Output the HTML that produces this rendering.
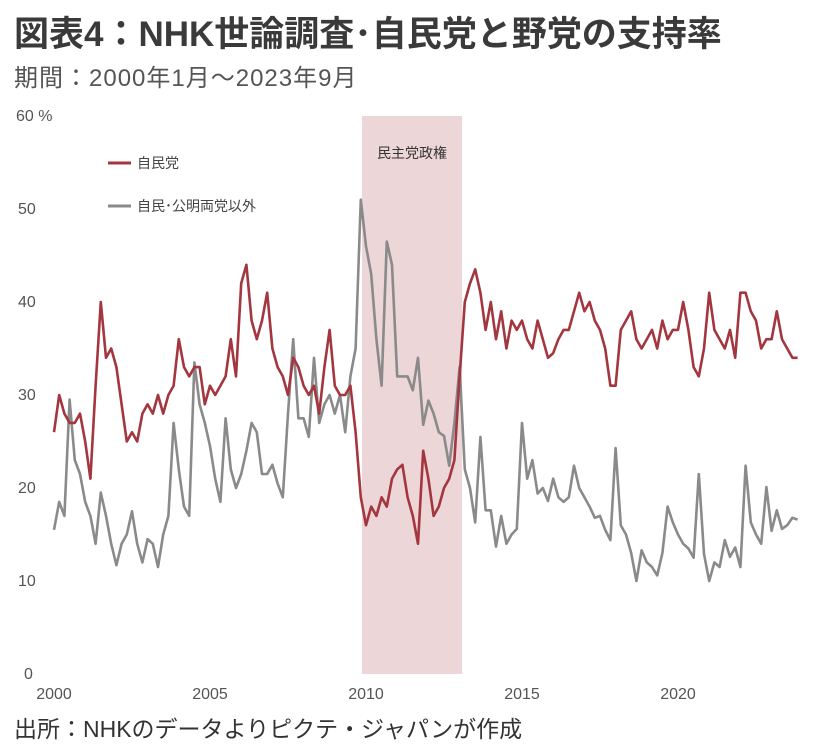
<!DOCTYPE html>
<html><head><meta charset="utf-8">
<style>
body{margin:0;background:#fff;width:831px;height:751px;overflow:hidden;font-family:"Liberation Sans","Noto Sans CJK JP",sans-serif;}
.t{position:absolute;white-space:nowrap;}
</style></head>
<body>
<div class="t" style="left:14px;top:6px;font-size:35px;font-weight:bold;color:#3a3a3a;">図表4：NHK世論調査･自民党と野党の支持率</div>
<div class="t" style="left:14px;top:58px;font-size:24px;letter-spacing:1px;color:#555;">期間：2000年1月～2023年9月</div>
<div class="t" style="left:14px;top:710px;font-size:23px;color:#333;">出所：NHKのデータよりピクテ・ジャパンが作成</div>
<svg id="chart" width="831" height="751" style="position:absolute;left:0;top:0" xmlns="http://www.w3.org/2000/svg"></svg>
<script>
const startYear = 2000;
const ldpValues = [
26,30,28,27,27,28, 25,21,31,40,34,35, 33,29,25,26,25,28, 29,28,30,28,30,31,
36,33,32,33,33,29, 31,30,31,32,36,32, 42,44,38,36,38,41, 35,33,32,30,34,33,
31,30,31,28,33,37, 31,30,30,31,26,19, 16,18,17,19,18,21, 22,22.5,19,17,14,24,
21,17,18,20,21,23, 32,40,42,43.5,41,37, 40,36,39,35,38,37, 38,36,35,38,36,34,
34.5,36,37,37,39,41, 39,40,38,37,35,31, 31,37,38,39,36,35, 36,37,35,38,36,37,
37,40,37,33,32,35, 41,37,36,35,37,34, 41,41,39,38,35,36, 36,39,36,35,34,34];
const otherValues = [
15.5,18.5,17,29.5,23,21.5, 18.5,17,14,19.5,17,14, 11.7,14,15,17.5,14,12, 14.5,14,11.5,15,17,27,
22,18,17,33.5,29,27, 24.5,21,18.5,27.5,22,20, 21.5,24,27,26,21.5,21.5, 22.5,20.5,19,28,36,27.5,
27.5,25.5,34,27,29,30, 28,30,26,32,35,51, 46,43,36,31,46.5,44, 32,32,32,30.5,34,26.8,
29.4,28,26,25.6,22.4,27, 33,22,20,16.3,25.5,17.6, 17.6,13.7,17,14,15,15.6, 27,21,23,19.4,20,18.6,
21,19,18.5,19,22.4,20, 19,18,16.8,17,15.5,14.4, 24.3,16,15,13,10,13.3, 12,11.5,10.6,13,18,16.3,
15,14,13.5,12.5,21.5,12.9, 10,12,11.5,14.4,12.6,13.6, 11.5,22.4,16.3,15,14,20.1, 15.4,17.6,15.6,16,16.8,16.6];
const yTicks = [0,10,20,30,40,50,60];
const xTicks = [2000,2005,2010,2015,2020];
const dpjStart = 2009.87, dpjEnd = 2013.08;

const NS="http://www.w3.org/2000/svg";
const svg=document.getElementById('chart');
const x=t=>54+(t-2000)*31.2;
const y=v=>674-v*9.3;
function mk(tag,attrs){const e=document.createElementNS(NS,tag);for(const k in attrs)e.setAttribute(k,attrs[k]);svg.appendChild(e);return e;}

const band=mk('rect',{x:x(dpjStart),y:y(60),width:x(dpjEnd)-x(dpjStart),height:y(0)-y(60),fill:'#ecd6d8'});


const bl=mk('text',{x:(x(dpjStart)+x(dpjEnd))/2,y:158,'text-anchor':'middle','font-size':14,fill:'#333','font-family':'"Liberation Sans","Noto Sans CJK JP",sans-serif'});
bl.textContent='民主党政権';



yTicks.forEach(v=>{
  const tx=mk('text',{x:v===60?16:(v===0?24:18),y:y(v)+5,'font-size':16,fill:'#555','font-family':'"Liberation Sans",sans-serif'});
  tx.textContent=v===60?'60 %':String(v);
  
  
});
xTicks.forEach(t=>{
  const tx=mk('text',{x:x(t),y:699,'text-anchor':'middle','font-size':16,fill:'#555','font-family':'"Liberation Sans",sans-serif'});
  tx.textContent=String(t);
  
  
});

function line(vals,color,name){
  const pts=vals.map((v,i)=>x(startYear+i/6).toFixed(1)+','+y(v).toFixed(1)).join(' ');
  const p=mk('polyline',{points:pts,fill:'none',stroke:color,'stroke-width':2.6,'stroke-linejoin':'round'});
  
  
}
line(otherValues,'#8a8a8a','series-non-ldp-komeito');
line(ldpValues,'#a3363e','series-ldp');

function legend(yy,color,label,name){
  const l=mk('line',{x1:108,x2:131,y1:yy,y2:yy,stroke:color,'stroke-width':3});
  
  
  const t=mk('text',{x:137,y:yy+5,'font-size':14,fill:'#444','font-family':'"Liberation Sans","Noto Sans CJK JP",sans-serif'});
  t.textContent=label;
  
  
}
legend(163,'#a3363e','自民党','legend-ldp');
legend(206,'#8a8a8a','自民･公明両党以外','legend-non-ldp-komeito');
</script>
</body></html>
